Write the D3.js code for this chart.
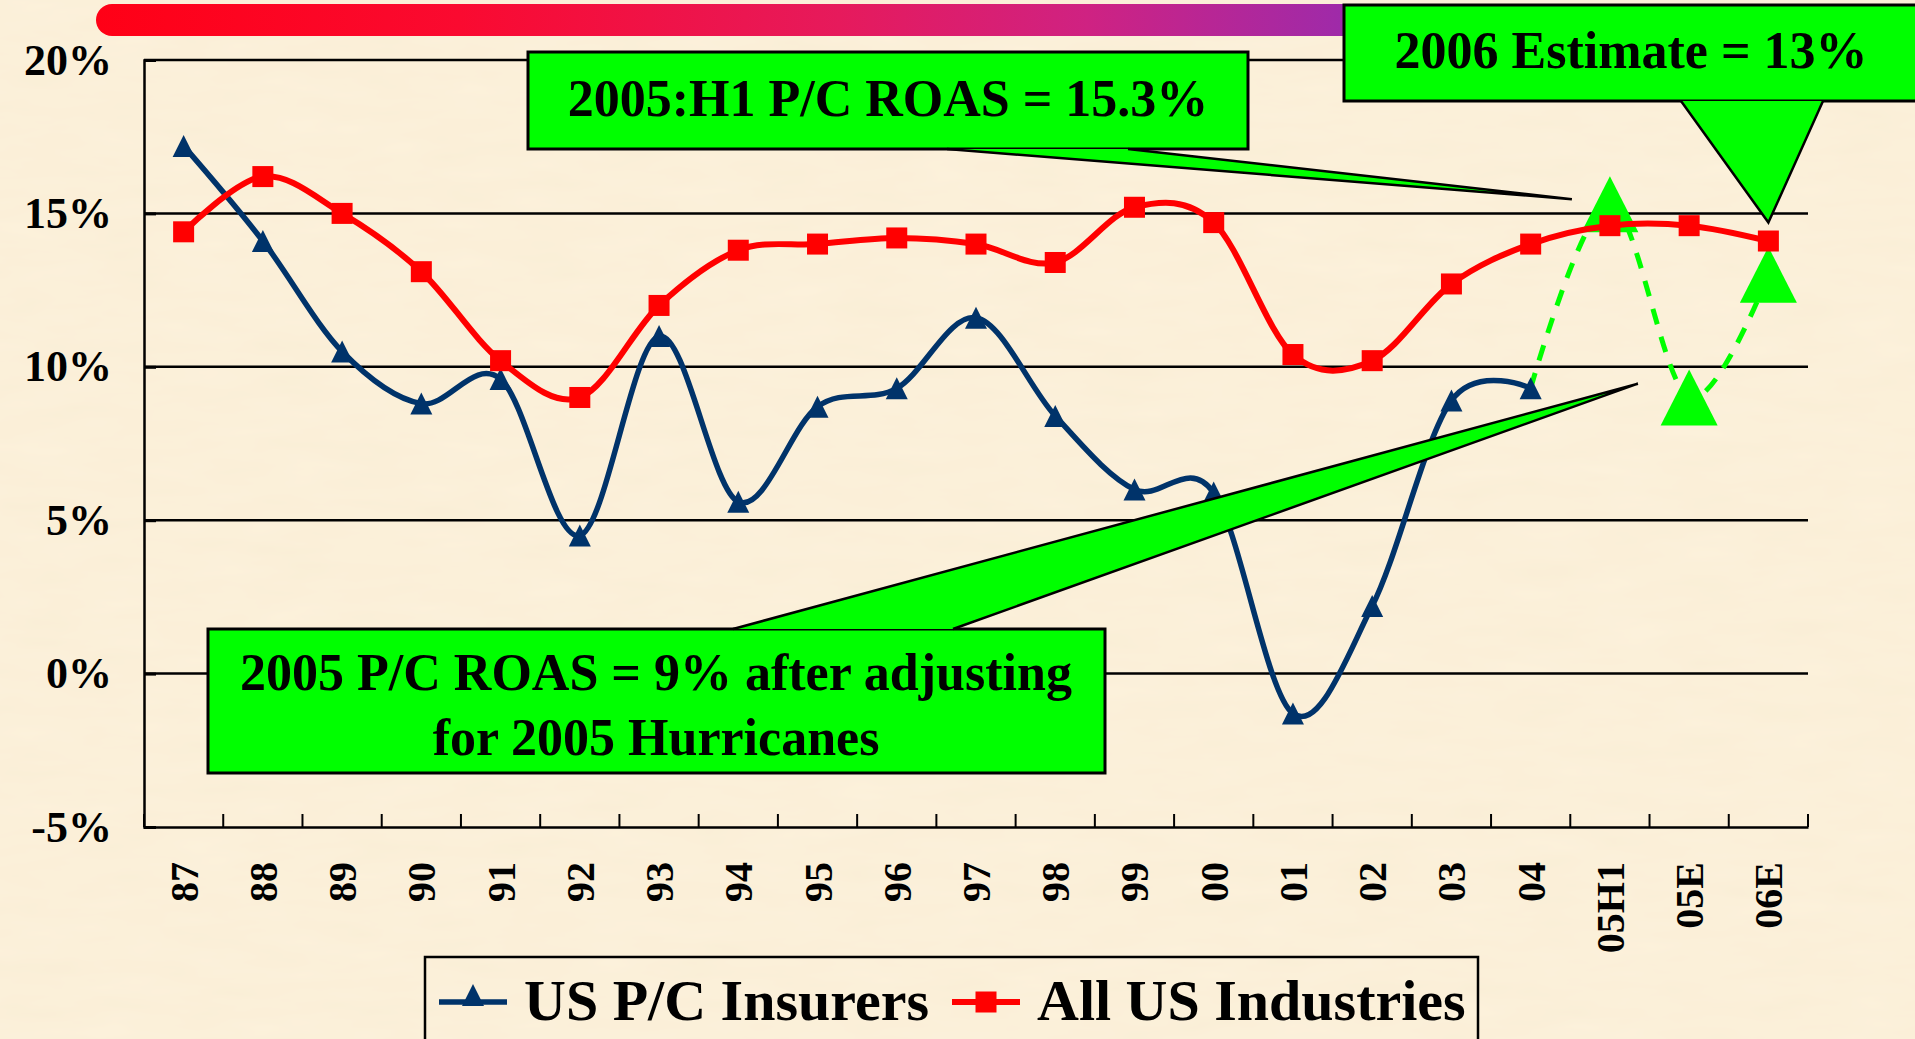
<!DOCTYPE html>
<html>
<head>
<meta charset="utf-8">
<script src="https://cdn.jsdelivr.net/npm/d3@7"></script>
<style>
  html, body { margin: 0; padding: 0; overflow: hidden; background: #fbf0d8; }
  svg { display: block; }
  text { font-family: "Liberation Serif", "Times New Roman", serif; font-weight: bold; fill: #000; }
</style>
</head>
<body>
<div id="chart"></div>
<script>
// categories along the bottom
const categories = ["87", "88", "89", "90", "91", "92", "93", "94", "95", "96", "97",
  "98", "99", "00", "01", "02", "03", "04", "05H1", "05E", "06E"];

// US P/C insurers ROAS (%)
const pcInsurers = [17.2, 14.1, 10.5, 8.8, 9.6, 4.5, 11.0, 5.6, 8.7, 9.3, 11.6,
  8.4, 6.0, 5.9, -1.3, 2.2, 8.9, 9.3, null, null, null];

// All US industries ROAS (%)
const allIndustries = [14.4, 16.2, 15.0, 13.1, 10.2, 9.0, 12.0, 13.8, 14.0, 14.2, 14.0,
  13.4, 15.2, 14.7, 10.4, 10.2, 12.7, 14.0, 14.6, 14.6, 14.1];

// P/C estimates (green dashed), starting from 2004 actual
const pcEstimates = [null, null, null, null, null, null, null, null, null, null, null,
  null, null, null, null, null, null, 9.3, 15.3, 9.0, 13.0];

const yTicks = [-5, 0, 5, 10, 15, 20];

const W = 1915, H = 1039;
const svg = d3.select("#chart").append("svg")
  .attr("width", W).attr("height", H);

// parchment-ish background
const defs = svg.append("defs");
const paper = defs.append("filter").attr("id", "paper")
  .attr("x", 0).attr("y", 0).attr("width", "100%").attr("height", "100%");
paper.append("feTurbulence").attr("type", "fractalNoise")
  .attr("baseFrequency", "0.012 0.05").attr("numOctaves", 3).attr("seed", 4);
paper.append("feColorMatrix").attr("type", "matrix")
  .attr("values", "0 0 0 0 0.85  0 0 0 0 0.72  0 0 0 0 0.5  0 0 0 0.18 -0.02");
svg.append("rect").attr("width", W).attr("height", H).attr("fill", "#fcf1db");
svg.append("rect").attr("width", W).attr("height", H).attr("filter", "url(#paper)");

// top gradient bar
const grad = defs.append("linearGradient").attr("id", "bar")
  .attr("x1", "0%").attr("x2", "100%");
[["0%", "#ff0016"], ["22%", "#fa0a30"], ["45%", "#e61a5c"], ["60%", "#cf2282"],
 ["75%", "#a02aa8"], ["86%", "#7432c0"], ["100%", "#3c46d6"]]
  .forEach(([o, c]) => grad.append("stop").attr("offset", o).attr("stop-color", c));
svg.append("rect")
  .attr("x", 96).attr("y", 4).attr("width", 1652).attr("height", 32)
  .attr("rx", 16).attr("fill", "url(#bar)");

// scales
const x = d3.scaleBand().domain(categories).range([144, 1808]);
const y = d3.scaleLinear().domain([-5, 20]).range([827, 60]);
const cx = c => x(c) + x.bandwidth() / 2;

// gridlines
svg.append("g").selectAll("line")
  .data(yTicks.filter(t => t > -5))
  .enter().append("line")
  .attr("x1", x.range()[0]).attr("x2", x.range()[1])
  .attr("y1", d => y(d)).attr("y2", d => y(d))
  .attr("stroke", "#000").attr("stroke-width", 2.5);

// y axis
const yAxis = svg.append("g")
  .attr("transform", `translate(${x.range()[0]},0)`)
  .call(d3.axisLeft(y).tickValues(yTicks).tickSize(-12).tickPadding(32)
    .tickFormat(d => d + "%"));
yAxis.select(".domain").attr("stroke", "#000").attr("stroke-width", 2.5);
yAxis.selectAll(".tick line").attr("stroke", "#000").attr("stroke-width", 3);
yAxis.selectAll(".tick text")
  .attr("font-size", 44).attr("font-family", "Liberation Serif, serif")
  .attr("font-weight", "bold").attr("fill", "#000");

// x axis
const xAxis = svg.append("g")
  .attr("transform", `translate(0,${y(-5)})`)
  .call(d3.axisBottom(x).tickSize(0).tickFormat(""));
xAxis.select(".domain").attr("stroke", "#000").attr("stroke-width", 2.5);
svg.append("g").selectAll("line")
  .data(categories.map(c => x(c)).concat([x.range()[1]]))
  .enter().append("line")
  .attr("x1", d => d).attr("x2", d => d)
  .attr("y1", y(-5)).attr("y2", y(-5) - 13)
  .attr("stroke", "#000").attr("stroke-width", 2);
svg.append("g").selectAll("text")
  .data(categories)
  .enter().append("text")
  .attr("transform", d => `translate(${cx(d)},${y(-5) + 35}) rotate(-90)`)
  .attr("text-anchor", "end")
  .attr("dy", "0.35em")
  .attr("font-size", 40)
  .text(d => d);

const curve = d3.curveCardinal.tension(0);
const lineGen = vals => d3.line()
  .defined((d, i) => vals[i] != null)
  .x((d, i) => cx(categories[i]))
  .y((d, i) => y(vals[i]))
  .curve(curve)(vals);

const triPath = s => `M0,${-s} L${s},${s} L${-s},${s} Z`;

// estimates: green dashed line and big triangles
svg.append("path")
  .attr("d", lineGen(pcEstimates))
  .attr("fill", "none").attr("stroke", "#00ff00")
  .attr("stroke-width", 5).attr("stroke-dasharray", "16 13");
svg.append("g").selectAll("path")
  .data(categories.map((c, i) => ({ c, v: pcEstimates[i] })).filter((d, i) => d.v != null && i > 17))
  .enter().append("path")
  .attr("transform", d => `translate(${cx(d.c)},${y(d.v)})`)
  .attr("d", "M0,-28 L28.5,28 L-28.5,28 Z")
  .attr("fill", "#00ff00");

// US P/C insurers
svg.append("path")
  .attr("d", lineGen(pcInsurers))
  .attr("fill", "none").attr("stroke", "#00336a").attr("stroke-width", 5.5);
svg.append("g").selectAll("path")
  .data(categories.map((c, i) => ({ c, v: pcInsurers[i] })).filter(d => d.v != null))
  .enter().append("path")
  .attr("transform", d => `translate(${cx(d.c)},${y(d.v)})`)
  .attr("d", triPath(11))
  .attr("fill", "#00336a");

// All US industries
svg.append("path")
  .attr("d", lineGen(allIndustries))
  .attr("fill", "none").attr("stroke", "#ff0000").attr("stroke-width", 6);
svg.append("g").selectAll("rect")
  .data(categories.map((c, i) => ({ c, v: allIndustries[i] })))
  .enter().append("rect")
  .attr("x", d => cx(d.c) - 10.5).attr("y", d => y(d.v) - 10.5)
  .attr("width", 21).attr("height", 21)
  .attr("fill", "#ff0000");

// callouts
const green = "#00ff00";
function callout(box, wedge, lines) {
  const g = svg.append("g");
  g.append("rect")
    .attr("x", box.x).attr("y", box.y).attr("width", box.w).attr("height", box.h)
    .attr("fill", green).attr("stroke", "#000").attr("stroke-width", 3);
  // wedge: fill over border, then outline the two sides
  g.append("path")
    .attr("d", `M${wedge[0][0]},${wedge[0][1]} L${wedge[1][0]},${wedge[1][1]} L${wedge[2][0]},${wedge[2][1]} Z`)
    .attr("fill", green).attr("stroke", "none");
  g.append("path")
    .attr("d", `M${wedge[0][0]},${wedge[0][1]} L${wedge[1][0]},${wedge[1][1]} L${wedge[2][0]},${wedge[2][1]}`)
    .attr("fill", "none").attr("stroke", "#000").attr("stroke-width", 2.5)
    .attr("stroke-linejoin", "miter");
  lines.forEach(l => {
    g.append("text")
      .attr("x", l.x).attr("y", l.y)
      .attr("text-anchor", "middle")
      .attr("font-size", 52)
      .text(l.t);
  });
}

// 2005:H1 callout, tip just left of the 05H1 estimate
callout({ x: 528, y: 52, w: 720, h: 97 },
  [[947, 149], [cx("05H1") - 38, y(15.3) - 5], [1128, 149]],
  [{ x: 888, y: 116, t: "2005:H1 P/C ROAS = 15.3%" }]);

// 2006 estimate callout, tip above the 06E point
callout({ x: 1344, y: 5, w: 600, h: 96 },
  [[1681, 101], [cx("06E"), y(14.7)], [1823, 101]],
  [{ x: 1631, y: 68, t: "2006 Estimate = 13%" }]);

// 2005 adjusted callout, tip pointing at 05E level
callout({ x: 208, y: 629, w: 897, h: 144 },
  [[733, 629], [cx("05H1") + 28, y(9.45)], [953, 629]],
  [{ x: 656, y: 690, t: "2005 P/C ROAS = 9% after adjusting" },
   { x: 656, y: 755, t: "for 2005 Hurricanes" }]);

// legend
const lg = svg.append("g");
lg.append("rect")
  .attr("x", 425).attr("y", 957).attr("width", 1053).attr("height", 100)
  .attr("fill", "none").attr("stroke", "#000").attr("stroke-width", 2.5);
lg.append("line").attr("x1", 439).attr("x2", 507).attr("y1", 1002).attr("y2", 1002)
  .attr("stroke", "#00336a").attr("stroke-width", 5.5);
lg.append("path").attr("transform", "translate(473,995)").attr("d", triPath(11))
  .attr("fill", "#00336a");
lg.append("text").attr("x", 524).attr("y", 1020).attr("font-size", 58).text("US P/C Insurers");
lg.append("line").attr("x1", 952).attr("x2", 1020).attr("y1", 1002).attr("y2", 1002)
  .attr("stroke", "#ff0000").attr("stroke-width", 6);
lg.append("rect").attr("x", 975.5).attr("y", 991.5).attr("width", 21).attr("height", 21)
  .attr("fill", "#ff0000");
lg.append("text").attr("x", 1037).attr("y", 1020).attr("font-size", 58).text("All US Industries");
</script>
</body>
</html>
